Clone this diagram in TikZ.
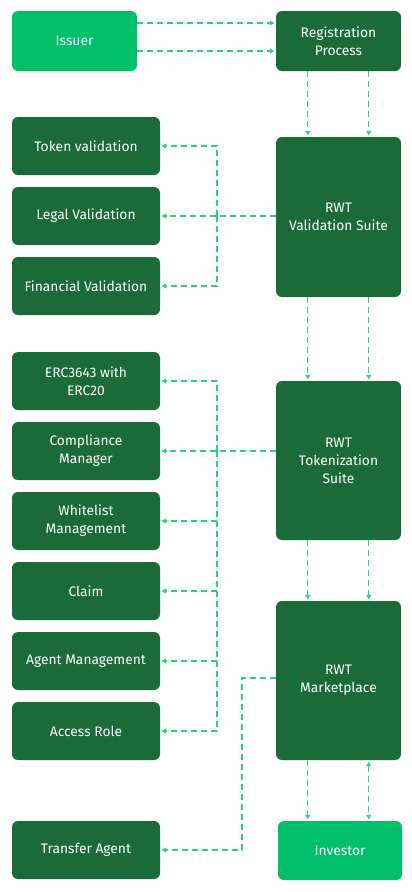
\documentclass[tikz,border=0pt]{standalone}
\usepackage{fontspec}
\setmainfont{Fira Sans}
\usetikzlibrary{arrows.meta}
\definecolor{DarkGreen}{HTML}{1B6B38}
\definecolor{BrightGreen}{HTML}{02BF6A}
\definecolor{LinkGreen}{HTML}{2AD382}

\begin{document}
\begin{tikzpicture}[x=1pt,y=-1pt,>={Latex[length=5pt,width=6pt]}]
    \tikzset{
      box/.style={fill=DarkGreen,rounded corners=6pt,text=white,align=center,
        font=\fontsize{13.8}{18}\selectfont,minimum width=148pt,minimum height=58pt,inner sep=2pt},
      wide/.style={box,minimum width=125pt},
      entry/.style={wide,fill=BrightGreen,minimum height=60pt},
      link/.style={draw=LinkGreen,line width=1.3pt,dash pattern=on 6pt off 4pt,shorten >=1pt}
    }
    \useasboundingbox (0,0) rectangle (412,892);
    % top row
    \node[entry] (issuer) at (74.5,41) {Issuer};
    \node[wide,minimum height=60pt] (reg) at (338.5,41) {Registration\\Process};
    % validation
    \node[box] (tokval) at (86,146) {Token validation};
    \node[box] (legal) at (86,216) {Legal Validation};
    \node[box] (fin) at (86,286) {Financial Validation};
    \node[wide,minimum height=160pt] (val) at (338.5,217) {RWT\\Validation Suite};
    % tokenization
    \node[box] (erc) at (86,381) {ERC3643 with\\ERC20};
    \node[box] (comp) at (86,451) {Compliance\\Manager};
    \node[box] (white) at (86,521) {Whitelist\\Management};
    \node[box] (claim) at (86,591) {Claim};
    \node[box] (agent) at (86,661) {Agent Management};
    \node[box] (access) at (86,731) {Access Role};
    \node[wide,minimum height=159pt] (tok) at (338.5,460.5) {RWT\\Tokenization\\Suite};
    % marketplace
    \node[wide,minimum height=159pt] (market) at (338.5,680.5) {RWT\\Marketplace};
    \node[box] (transfer) at (86,850) {Transfer Agent};
    \node[entry,minimum height=59pt,minimum width=124pt] (investor) at (340,850.5) {Investor};

    \coordinate (vbus) at (217,0);
    \coordinate (mbus) at (242,678);

    \draw[link,->] ([yshift=-10pt]issuer.east) -- ([yshift=-10pt]reg.west);
    \draw[link,->] ([yshift=18pt]issuer.east) -- ([yshift=18pt]reg.west);
    \foreach \a/\b in {reg/val,val/tok,tok/market}{
      \draw[link,->,shorten <=\ifx\a reg 22pt\else 0pt\fi] ([xshift=32pt]\a.south west) -- ([xshift=32pt]\b.north west);
      \draw[link,->,shorten <=\ifx\a reg 22pt\else 0pt\fi] ([xshift=93pt]\a.south west) -- ([xshift=93pt]\b.north west);
    }
    \draw[link,->] ([xshift=32pt]market.south west) -- ([xshift=30pt]investor.north west);
    \draw[link,<->,shorten <=1pt] ([xshift=93pt]market.south west) -- ([xshift=91pt]investor.north west);

    \draw[link,->] (val.west |- legal.east) -- (legal.east);
    \foreach \n in {tokval,fin}
      \draw[link,->] (vbus |- legal.east) |- (\n.east);
    \draw[link,->] (tok.west |- comp.east) -- (comp.east);
    \foreach \n in {erc,white,claim,agent,access}
      \draw[link,->] (vbus |- comp.east) |- (\n.east);
    \draw[link,->] (market.west |- mbus) -- (mbus) |- (transfer.east);
  \end{tikzpicture}
\end{document}
